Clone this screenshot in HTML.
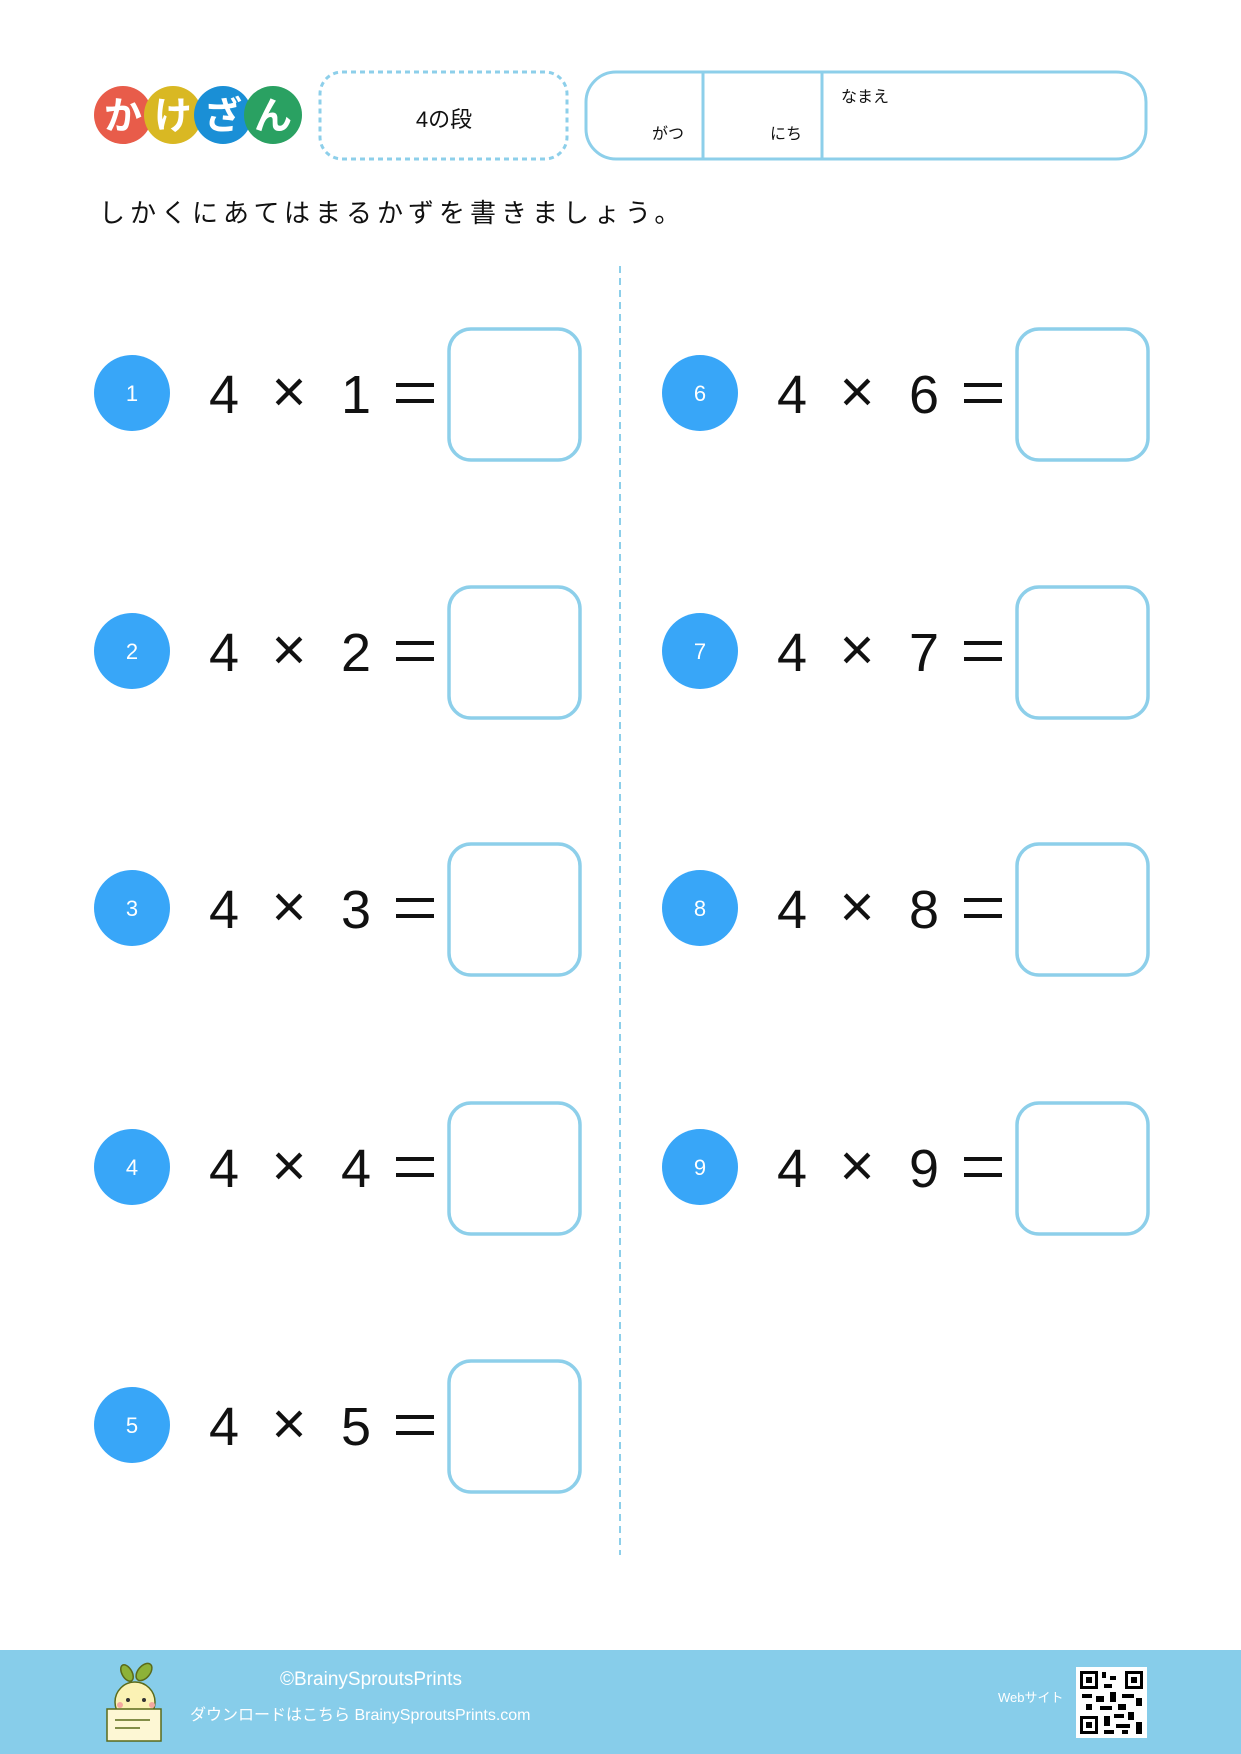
<!DOCTYPE html>
<html><head><meta charset="utf-8"><style>
html,body{margin:0;padding:0;background:#fff}
body{width:1241px;height:1754px;position:relative;overflow:hidden;font-family:"Liberation Sans","Noto Sans CJK JP",sans-serif}
svg{position:absolute;left:0;top:0}
</style></head><body>
<svg width="1241" height="1754" viewBox="0 0 1241 1754" xmlns="http://www.w3.org/2000/svg" font-family="'Liberation Sans','Noto Sans CJK JP',sans-serif">
<circle cx="123" cy="115" r="29" fill="#e85c4a"/>
<circle cx="173" cy="115" r="29" fill="#d9b823"/>
<circle cx="223" cy="115" r="29" fill="#1a8fd6"/>
<circle cx="273" cy="115" r="29" fill="#2aa162"/>
<g fill="#fff" font-size="38" font-weight="bold" text-anchor="middle">
<text x="123" y="129">か</text><text x="173" y="129">け</text><text x="223" y="129">ざ</text><text x="273" y="129">ん</text></g>
<rect x="320" y="72" width="247" height="87" rx="22" fill="none" stroke="#8dcfea" stroke-width="3" stroke-dasharray="5 4"/>
<text x="444" y="127" font-size="22" text-anchor="middle" fill="#111">4の段</text>
<rect x="586" y="72" width="560" height="87" rx="30" fill="none" stroke="#8dcfea" stroke-width="3"/>
<line x1="703" y1="72" x2="703" y2="159" stroke="#8dcfea" stroke-width="3"/>
<line x1="822" y1="72" x2="822" y2="159" stroke="#8dcfea" stroke-width="3"/>
<g font-size="16" fill="#111"><text x="652" y="139">がつ</text><text x="770" y="139">にち</text><text x="841" y="102">なまえ</text></g>
<text x="99" y="222" font-size="26" fill="#111" letter-spacing="5">しかくにあてはまるかずを書きましょう。</text>
<line x1="620" y1="266" x2="620" y2="1555" stroke="#8dcfea" stroke-width="2" stroke-dasharray="7 5"/>
<g id="rows" font-size="54" fill="#111"></g>
<rect x="0" y="1650" width="1241" height="104" fill="#87cdea"/>
<text x="371" y="1685" font-size="19" fill="#fff" text-anchor="middle">©BrainySproutsPrints</text>
<text x="190" y="1720" font-size="16" fill="#fff">ダウンロードはこちら BrainySproutsPrints.com</text>
<text x="998" y="1702" font-size="13" fill="#fff">Webサイト</text>
<rect x="1076" y="1667" width="71" height="71" fill="#fff"/>
<g fill="#000">
<rect x="1080" y="1671" width="18" height="18"/><rect x="1083" y="1674" width="12" height="12" fill="#fff"/><rect x="1086" y="1677" width="6" height="6"/>
<rect x="1125" y="1671" width="18" height="18"/><rect x="1128" y="1674" width="12" height="12" fill="#fff"/><rect x="1131" y="1677" width="6" height="6"/>
<rect x="1080" y="1716" width="18" height="18"/><rect x="1083" y="1719" width="12" height="12" fill="#fff"/><rect x="1086" y="1722" width="6" height="6"/>
<rect x="1102" y="1672" width="4" height="6"/><rect x="1110" y="1676" width="6" height="4"/><rect x="1104" y="1684" width="8" height="4"/>
<rect x="1082" y="1694" width="10" height="4"/><rect x="1096" y="1696" width="8" height="6"/><rect x="1110" y="1692" width="6" height="10"/>
<rect x="1122" y="1694" width="12" height="4"/><rect x="1136" y="1698" width="6" height="8"/><rect x="1086" y="1704" width="6" height="6"/>
<rect x="1100" y="1706" width="12" height="4"/><rect x="1118" y="1704" width="8" height="6"/><rect x="1104" y="1716" width="6" height="10"/>
<rect x="1114" y="1714" width="10" height="4"/><rect x="1128" y="1712" width="6" height="8"/><rect x="1116" y="1724" width="14" height="4"/>
<rect x="1136" y="1722" width="6" height="12"/><rect x="1104" y="1730" width="10" height="4"/><rect x="1122" y="1730" width="6" height="4"/>
</g>
<g stroke="#5a6a1a" stroke-width="1.5">
<ellipse cx="127" cy="1673" rx="5" ry="9" fill="#8db238" transform="rotate(-30 127 1673)"/>
<ellipse cx="144" cy="1672" rx="6" ry="10" fill="#8db238" transform="rotate(40 144 1672)"/>
<ellipse cx="135" cy="1702" rx="20" ry="20" fill="#fbf2b4"/>
<rect x="107" y="1709" width="54" height="32" fill="#fdf7d4"/>
</g>
<circle cx="128" cy="1700" r="2" fill="#333"/><circle cx="144" cy="1700" r="2" fill="#333"/>
<circle cx="120" cy="1705" r="3" fill="#f4a8a0"/><circle cx="152" cy="1705" r="3" fill="#f4a8a0"/>
<line x1="115" y1="1720" x2="150" y2="1720" stroke="#5a6a1a" stroke-width="1.5"/>
<line x1="115" y1="1728" x2="140" y2="1728" stroke="#5a6a1a" stroke-width="1.5"/>
</svg>
<script>
(function(){
var g=document.getElementById('rows');
var ys=[393,651,908,1167,1425];var h='';
for(var i=0;i<9;i++){var col=i<5?0:1;var r=col?i-5:i;var dx=col*568;var y=ys[r];
h+='<circle cx="'+(132+dx)+'" cy="'+y+'" r="38" fill="#38a6f8"/>';
h+='<text x="'+(132+dx)+'" y="'+(y+8)+'" font-size="22" fill="#fff" text-anchor="middle">'+(i+1)+'</text>';
h+='<text x="'+(224+dx)+'" y="'+(y+20)+'" text-anchor="middle">4</text>';
h+='<text x="'+(289+dx)+'" y="'+(y+19)+'" text-anchor="middle" font-size="60">×</text>';
h+='<text x="'+(356+dx)+'" y="'+(y+20)+'" text-anchor="middle">'+(i+1)+'</text>';
h+='<rect x="'+(396+dx)+'" y="'+(y-10)+'" width="38" height="4" fill="#111"/><rect x="'+(396+dx)+'" y="'+(y+6)+'" width="38" height="4" fill="#111"/>';
h+='<rect x="'+(449+dx)+'" y="'+(y-64)+'" width="131" height="131" rx="22" fill="none" stroke="#8dcfea" stroke-width="3.5"/>';}
g.innerHTML=h;})();
</script>
</body></html>
